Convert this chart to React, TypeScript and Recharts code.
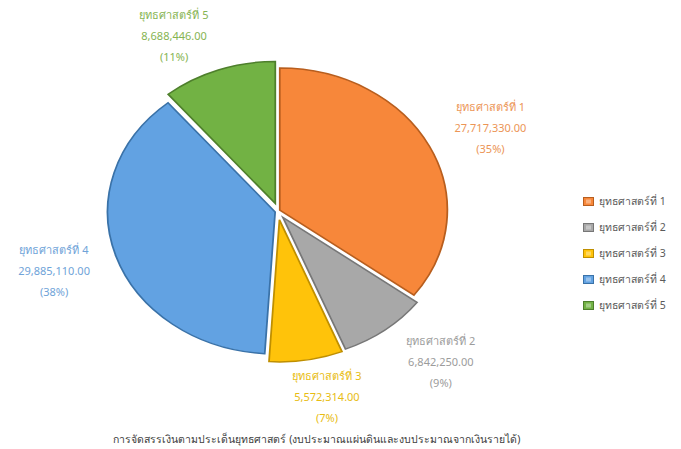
import React from "react";
import { PieChart, Pie, Cell, Legend } from "recharts";

const categories = [
  "ยุทธศาสตร์ที่ 1",
  "ยุทธศาสตร์ที่ 2",
  "ยุทธศาสตร์ที่ 3",
  "ยุทธศาสตร์ที่ 4",
  "ยุทธศาสตร์ที่ 5",
];
const values = [27717330.0, 6842250.0, 5572314.0, 29885110.0, 8688446.0];
const title =
  "การจัดสรรเงินตามประเด็นยุทธศาสตร์ (งบประมาณแผ่นดินและงบประมาณจากเงินรายได้)";

const data = categories.map((name, i) => ({ name, value: values[i] }));

const FILLS = ["#F7873A", "#A8A8A8", "#FFC30A", "#62A2E2", "#72B244"];
const EDGES = ["#B85E1E", "#777777", "#BF8F00", "#3A72A8", "#4E7F2C"];
const TEXTS = ["#EC9556", "#9C9C9C", "#E8BC12", "#6FA3D8", "#86B452"];
const EXPLODE = [2, 8, 9, 3, 8];

const W = 681;
const H = 449;
const CX = 278;
const CY = 211;
const R = 142;
const SX = 1.18;
const FONT = "'Noto Sans', 'DejaVu Sans', sans-serif";

const total = values.reduce((a, b) => a + b, 0);
// clockwise-from-top mid angles (degrees)
const mids: number[] = [];
{
  let acc = 0;
  values.forEach((v) => {
    const a = (v / total) * 360;
    mids.push(acc + a / 2);
    acc += a;
  });
}

const sectorTransform = (i: number) => {
  const t = (mids[i] * Math.PI) / 180;
  const dx = Math.sin(t) * EXPLODE[i];
  const dy = -Math.cos(t) * EXPLODE[i];
  return `translate(${CX + dx}px, ${CY + dy}px) scale(${SX}, 1) translate(${-CX}px, ${-CY}px)`;
};

const css = categories
  .map(
    (_, i) =>
      `.sec${i} { transform-box: view-box; transform-origin: 0 0; transform: ${sectorTransform(
        i
      )}; }`
  )
  .join("\n");

const fmt = (v: number) =>
  v.toLocaleString("en-US", { minimumFractionDigits: 2, maximumFractionDigits: 2 });

const renderLabel = (props: any) => {
  const { cx, cy, midAngle, outerRadius, index, value, percent } = props;
  const rad = (midAngle * Math.PI) / 180;
  const s = Math.cos(rad); // sin of clockwise-from-top angle
  const c = Math.sin(rad); // cos of clockwise-from-top angle
  const g = 15;
  const e = EXPLODE[index];
  const ax = cx + s * ((outerRadius + g) * SX + e);
  const ay = cy - c * (outerRadius + g + e);
  const bw = 90;
  const bh = 62;
  const k = Math.max(-1, Math.min(1, s * 2.5));
  const x = ax + k * (bw / 2);
  const yc = ay - c * (bh / 2) + 10 * c * c * c;
  const lh = 21;
  const col = TEXTS[index];
  return (
    <text
      x={x}
      y={yc - lh}
      textAnchor="middle"
      dominantBaseline="central"
      fill={col}
      fontSize={11}
      fontFamily={FONT}
    >
      <tspan x={x} y={yc - lh}>
        {categories[index]}
      </tspan>
      <tspan x={x} y={yc}>
        {fmt(value)}
      </tspan>
      <tspan x={x} y={yc + lh}>
        {`(${Math.round(percent * 100)}%)`}
      </tspan>
    </text>
  );
};

const renderLegend = (props: any) => {
  const { payload } = props;
  return (
    <div style={{ fontFamily: FONT, fontSize: 10.5, color: "#5A5A5A" }}>
      {(payload || []).map((p: any, i: number) => {
        const idx = categories.indexOf(p.value);
        const j = idx >= 0 ? idx : i;
        return (
          <div
            key={i}
            style={{ display: "flex", alignItems: "center", height: 26 }}
          >
            <svg width={11} height={9} style={{ marginRight: 5 }}>
              <rect
                x={0.5}
                y={0.5}
                width={10}
                height={8}
                fill={FILLS[j]}
                stroke={EDGES[j]}
                strokeWidth={1}
              />
              <rect x={3} y={2.5} width={5} height={4} fill="#ffffff" opacity={0.35} />
            </svg>
            <span>{categories[j]}</span>
          </div>
        );
      })}
    </div>
  );
};

export default function App() {
  return (
    <div
      style={{
        position: "absolute",
        left: 0,
        top: 0,
        width: W,
        height: H,
        background: "#ffffff",
      }}
    >
      <style>{css}</style>
      <PieChart width={W} height={H} margin={{ top: 0, right: 0, bottom: 0, left: 0 }}>
        <Pie
          data={data}
          dataKey="value"
          nameKey="name"
          cx={CX}
          cy={CY}
          outerRadius={R}
          startAngle={90}
          endAngle={-270}
          isAnimationActive={false}
          label={renderLabel}
          labelLine={false}
          stroke="none"
        >
          {data.map((d, i) => (
            <Cell
              key={d.name}
              fill={FILLS[i]}
              stroke={EDGES[i]}
              strokeWidth={1.5}
              className={`sec${i}`}
            />
          ))}
        </Pie>
        <Legend
          layout="vertical"
          align="right"
          verticalAlign="middle"
          content={renderLegend}
          wrapperStyle={{ left: 583, top: 188, width: 100, right: "auto", bottom: "auto" }}
        />
      </PieChart>
      <div
        style={{
          position: "absolute",
          left: 0,
          width: 634,
          top: 431,
          textAlign: "center",
          fontFamily: FONT,
          fontSize: 10.5,
          color: "#404040",
        }}
      >
        {title}
      </div>
    </div>
  );
}
